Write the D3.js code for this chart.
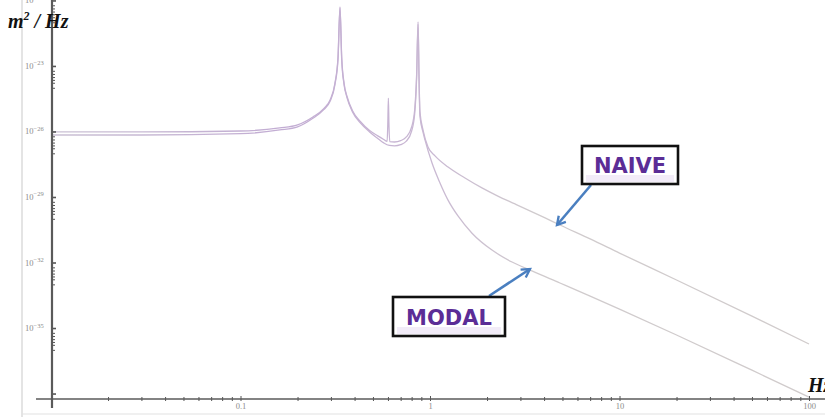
<!DOCTYPE html>
<html><head><meta charset="utf-8">
<script src="https://cdn.jsdelivr.net/npm/d3@7"></script>
<style>html,body{margin:0;padding:0;background:#fff;overflow:hidden}</style>
</head><body><svg id="c" width="825" height="417"></svg>
<script>
// ---- data ----
const naiveFreq = [0.01,0.03,0.1,0.161,0.2,0.241,0.275,0.297,0.315,0.327,0.335,0.342,0.352,0.365,0.39,0.43,0.48,0.53,0.57,0.594,0.599,0.603,0.607,0.613,0.65,0.7,0.75,0.8,0.83,0.85,0.865,0.875,0.885,0.92,0.976,1.063,1.245,1.53,1.88,2.28,2.81,4.05,4.85,7,10,20,50,100];
const naivePSD  = [9.5e-27,9.5e-27,1.05e-26,1.45e-26,2.0e-26,4.6e-26,1.1e-25,2.75e-25,1.6e-24,2.5e-23,5.0e-21,2.5e-23,1.6e-24,4.0e-25,8.9e-26,2.8e-26,1.1e-26,6.3e-27,4.3e-27,3.5e-27,2.5e-26,3.4e-25,2.5e-26,3.4e-27,3.3e-27,3.8e-27,5.6e-27,1.6e-26,9.5e-26,3.9e-24,1.05e-21,3.9e-24,7.9e-26,1.1e-26,1.95e-27,7.6e-28,2.35e-28,7.4e-29,2.6e-29,1.1e-29,4.8e-30,1.1e-30,5.2e-31,1.2e-31,2.7e-32,1.58e-33,3.5e-35,1.86e-36];

const modalFreq = [0.01,0.03,0.1,0.161,0.2,0.241,0.275,0.297,0.315,0.327,0.335,0.342,0.352,0.365,0.39,0.43,0.48,0.53,0.57,0.61,0.65,0.7,0.75,0.8,0.83,0.85,0.865,0.875,0.885,0.92,0.941,1.025,1.129,1.245,1.405,1.666,2.124,2.71,3.45,4.85,7,10,20,50,100];
const modalPSD  = [6.9e-27,6.9e-27,7.9e-27,1.17e-26,1.62e-26,4.0e-26,1.0e-25,2.4e-25,1.4e-24,2.0e-23,4.5e-21,2.0e-23,1.4e-24,3.5e-25,7.9e-26,2.4e-26,9.5e-27,4.8e-27,3.0e-27,2.3e-27,2.2e-27,2.5e-27,3.6e-27,1.05e-26,6.3e-26,2.8e-24,8.3e-22,2.8e-24,5.0e-26,8.9e-27,4.1e-27,3.6e-28,4.4e-29,7.2e-30,1.35e-30,2.2e-31,3.7e-32,1.05e-32,4.1e-33,1.15e-33,2.9e-34,7.4e-35,4.8e-36,1.17e-37,6.9e-39];

const yLabelExponents = [-20,-23,-26,-29,-32,-35];
const yExtraExponents = [-38];
const yMinorMultipliers = [0.6,0.43,0.31,0.23,0.17,0.1];
const xMajorTicks = [0.1,1,10,100];
const xTickLabels = ["0.1","1","10","100"];
const xDecades = [0.01,0.1,1,10];
const xMinorMultipliers = [2,3,4,5,6,7,8,9];

const seriesNames = ["NAIVE","MODAL"];

// ---- drawing ----
const svg = d3.select("#c");
const defs = svg.append("defs");
const x = d3.scaleLog().domain([0.01,100]).range([51,809]);
const y = d3.scaleLog().domain([Math.pow(10,-38.25), Math.pow(10,-19.98)]).range([399,0]);

// outer frame lines
svg.append("line").attr("x1",22).attr("x2",22).attr("y1",0).attr("y2",417).attr("stroke","#d2d2d2").attr("stroke-width",1.2);
svg.append("line").attr("x1",22).attr("x2",825).attr("y1",414).attr("y2",414).attr("stroke","#e2e2e2").attr("stroke-width",1.2);

// curves
defs.append("clipPath").attr("id","plotclip")
  .append("rect").attr("x",51).attr("y",0).attr("width",774).attr("height",399);
const line = d3.line().x(d=>x(d[0])).y(d=>y(d[1])).curve(d3.curveMonotoneX);
const grad = defs.append("linearGradient").attr("id","cg").attr("gradientUnits","userSpaceOnUse")
  .attr("x1",0).attr("x2",825).attr("y1",0).attr("y2",0);
grad.append("stop").attr("offset","0").attr("stop-color","#ccc5d4");
grad.append("stop").attr("offset","0.35").attr("stop-color","#c2acd3");
grad.append("stop").attr("offset","0.52").attr("stop-color","#c9b8d3");
grad.append("stop").attr("offset","0.65").attr("stop-color","#d0cbcd");
grad.append("stop").attr("offset","1").attr("stop-color","#d0cbcb");
const curves = [d3.zip(naiveFreq,naivePSD), d3.zip(modalFreq,modalPSD)];
svg.append("g").attr("clip-path","url(#plotclip)").selectAll("path").data(curves).join("path")
  .attr("d",line).attr("fill","none").attr("stroke","url(#cg)").attr("stroke-width",1.3);

// y axis
const yMajor = yLabelExponents.concat(yExtraExponents).map(k=>Math.pow(10,k));
const yMinor = [];
yLabelExponents.forEach(k=>yMinorMultipliers.forEach(m=>yMinor.push(m*Math.pow(10,k))));
const yAx = svg.append("g").attr("transform","translate(52,0)")
  .call(d3.axisRight(y).tickValues(yMajor.concat(yMinor)).tickFormat("").tickSizeOuter(0));
yAx.select(".domain").remove();
yAx.selectAll(".tick line").attr("stroke","#555").attr("x2",(d,i)=> i<yMajor.length?4:3).attr("stroke-width",(d,i)=> i<yMajor.length?1.6:1);
svg.append("line").attr("x1",52).attr("x2",52).attr("y1",0).attr("y2",408).attr("stroke","#5a5a5a").attr("stroke-width",2.2);

const yl = svg.append("g").selectAll("text").data(yLabelExponents).join("text")
  .attr("x",25).attr("y",k=>y(Math.pow(10,k))+3)
  .attr("font-family","Liberation Serif, serif").attr("font-size",8.5).attr("fill","#8c8c8c");
yl.append("tspan").text("10");
yl.append("tspan").attr("dy",-3.5).attr("font-size",6.5).text(k=>"\u2212"+(-k));

// x axis
const xMinor = [];
xDecades.forEach(d=>xMinorMultipliers.forEach(m=>xMinor.push(d*m)));
const xAx = svg.append("g").attr("transform","translate(0,399)")
  .call(d3.axisBottom(x).tickValues(xMajorTicks.concat(xMinor))
    .tickFormat(d=>{const i=xMajorTicks.indexOf(d); return i>=0?xTickLabels[i]:"";}).tickSizeOuter(0));
xAx.select(".domain").remove();
xAx.selectAll(".tick line").attr("stroke","#555").attr("y1",(d,i)=> i<xMajorTicks.length?-3:-2).attr("y2",2).attr("stroke-width",1);
xAx.selectAll(".tick text").attr("y",4).attr("dy","0.71em").attr("font-family","Liberation Serif, serif").attr("font-size",8.5).attr("fill","#8c8c8c");
svg.append("line").attr("x1",36).attr("x2",825).attr("y1",399).attr("y2",399).attr("stroke","#5a5a5a").attr("stroke-width",1.6);

// axis titles
const yt = svg.append("text").attr("x",8).attr("y",28).attr("font-family","Liberation Serif, serif").attr("font-style","italic").attr("font-weight","bold").attr("font-size",20).attr("fill","#111");
yt.append("tspan").text("m");
yt.append("tspan").attr("dy",-8).attr("font-size",12).text("2");
yt.append("tspan").attr("dy",8).text(" / Hz");
svg.append("text").attr("x",808).attr("y",392).attr("font-family","Liberation Serif, serif").attr("font-style","italic").attr("font-weight","bold").attr("font-size",20).attr("fill","#111").text("Hz");

// annotations
defs.append("marker").attr("id","ah").attr("viewBox","0 0 10 10").attr("refX",8).attr("refY",5)
  .attr("markerWidth",4.5).attr("markerHeight",4.5).attr("orient","auto").attr("markerUnits","strokeWidth")
  .append("path").attr("d","M1,1 L8,5 L1,9").attr("fill","none").attr("stroke","#4a7fc0").attr("stroke-width",2);

const boxes = [
  {name:seriesNames[0], bx:582, by:146, bw:96, bh:38, tx:630, ty:173, ax1:591, ay1:185, ax2:557, ay2:225},
  {name:seriesNames[1], bx:393, by:297, bw:112, bh:39, tx:449, ty:325, ax1:489, ay1:296, ax2:530, ay2:269}
];
boxes.forEach((b,i)=>{
  svg.append("line").attr("x1",b.ax1).attr("y1",b.ay1).attr("x2",b.ax2).attr("y2",b.ay2)
    .attr("stroke","#4a7fc0").attr("stroke-width",2.6).attr("marker-end","url(#ah)");
  svg.append("rect").attr("x",b.bx).attr("y",b.by).attr("width",b.bw).attr("height",b.bh)
    .attr("fill","#fff").attr("stroke","#111").attr("stroke-width",2.6);
  svg.append("rect").attr("x",b.bx+4).attr("y",b.ty+2).attr("width",b.bw-8).attr("height",b.by+b.bh-b.ty-4)
    .attr("fill","#ede4f5").attr("opacity",0.7);
  svg.append("text").attr("x",b.tx).attr("y",b.ty).attr("text-anchor","middle").attr("font-family","DejaVu Sans, sans-serif")
    .attr("font-weight","bold").attr("font-size",21).attr("fill","#5b2d96").text(b.name);
});
</script></body></html>
